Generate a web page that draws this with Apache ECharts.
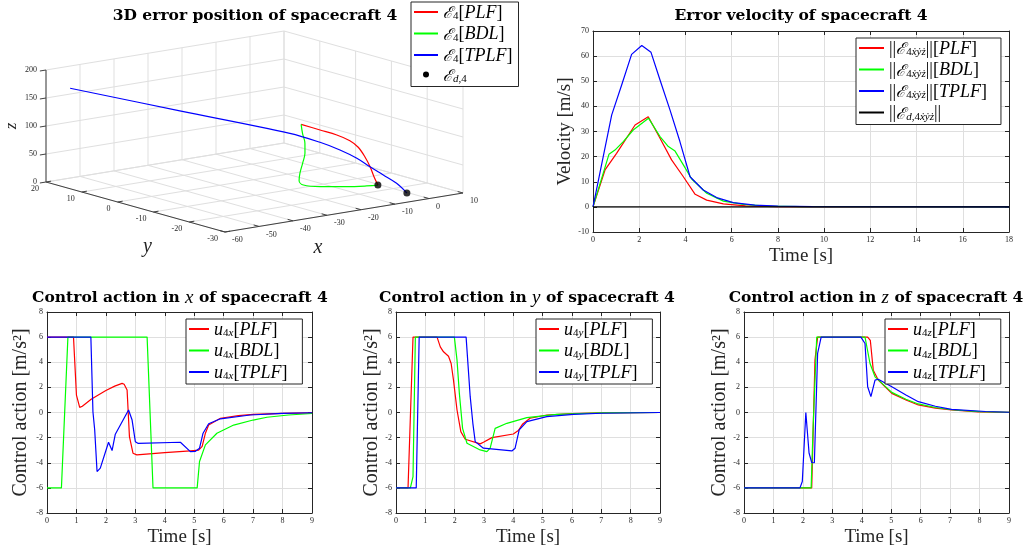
<!DOCTYPE html>
<html><head><meta charset="utf-8">
<script src="https://cdn.jsdelivr.net/npm/echarts@6/dist/echarts.min.js"></script>
<style>html,body{margin:0;padding:0;background:#fff}#c{width:1029px;height:552px}</style>
</head><body><div id="c"></div>
<script>
// ---------------- DATA ----------------
// 3D error position (x, y, z)
const X_TICKS_3D = [-60, -50, -40, -30, -20, -10, 0, 10];
const Y_TICKS_3D = [-30, -20, -10, 0, 10, 20];
const Z_TICKS_3D = [0, 50, 100, 150, 200];
const POS_PLF = [[0.3,6,68],[2.9,3.2,60.3],[5.0,0.5,54.1],[5.9,-2.3,48.0],[5.4,-5.1,41.8],[4.4,-7.9,30.9],[3.0,-10.7,19.5],[1.3,-13.4,8.2],[-0.5,-16.2,0]];
const POS_BDL = [[0.3,6,68],[-1.4,4.0,57.3],[-2.8,2.0,44.3],[-5.0,-0.1,32.5],[-7.8,-2.1,20.9],[-10.7,-4.1,9.5],[-12.2,-5.3,0],[-14.3,-8.5,0],[-12.3,-11.3,0],[-7.4,-14.0,0],[-3.2,-15.6,0],[-0.5,-16.2,0]];
const POS_TPLF = [[-52.9,20,160.3],[-25.9,15,102.1],[1.2,10,43.9],[4.8,5,33.2],[5.4,0,27.8],[5.1,-5,22.3],[3.7,-10,17.5],[2.35,-15,13],[1.0,-20,8.4],[-0.4,-24.2,0]];
const POS_DES = [[-0.5,-16.2,0],[-0.4,-24.2,0]];

// Error velocity [t, |v|]
const VEL_PLF = [[0,0],[0.52,14.7],[1.02,21.3],[1.82,32.6],[2.39,35.9],[2.9,27.3],[3.4,18.7],[3.91,12],[4.42,5],[4.92,2.7],[5.64,1.2],[6.6,0.4],[8,0.1],[10,0],[18,0]];
const VEL_BDL = [[0,0],[0.69,20.9],[0.95,22.6],[1.31,26],[1.74,30.6],[2.4,35.3],[2.9,28],[3.26,24],[3.55,22.2],[3.91,16.7],[4.27,11.1],[4.92,5.4],[5.64,2.3],[6.5,1],[7.5,0.35],[9,0.08],[18,0]];
const VEL_TPLF = [[0,0],[0.81,36.6],[1.24,48.5],[1.67,60.7],[2.11,64.2],[2.51,61.5],[2.9,50.5],[3.33,38.6],[3.76,26],[4.2,12],[4.77,6.7],[5.35,3.7],[6.07,1.7],[7,0.7],[8,0.3],[9.5,0.08],[18,0]];
const VEL_DES = [[0,0],[18,0]];

// Control action [t, u]
const UX_PLF = [[0,6],[0.9,6],[1.0,1.39],[1.11,0.41],[1.2,0.5],[1.5,1.05],[2.0,1.75],[2.3,2.1],[2.55,2.32],[2.62,2.25],[2.72,1.79],[2.8,-1.92],[2.92,-3.24],[3.05,-3.37],[4.0,-3.2],[4.87,-3.05],[5.15,-3.0],[5.27,-2.7],[5.38,-1.65],[5.49,-0.99],[5.89,-0.46],[6.5,-0.25],[7,-0.15],[8,-0.07],[9,-0.03]];
const UX_BDL = [[0,-6],[0.49,-6],[0.71,6],[3.4,6],[3.6,-6],[5.1,-6],[5.18,-3.9],[5.38,-2.58],[5.77,-1.65],[6.34,-1.0],[7.0,-0.6],[7.47,-0.38],[8.2,-0.2],[9,-0.08]];
const UX_TPLF = [[0,6],[1.49,6],[1.56,0.06],[1.62,-1.39],[1.7,-4.7],[1.81,-4.43],[2.09,-2.37],[2.21,-3.03],[2.32,-1.73],[2.77,0.2],[2.89,-0.6],[3.0,-2.32],[3.1,-2.46],[4.53,-2.37],[4.87,-3.11],[5.03,-3.1],[5.18,-2.84],[5.3,-1.65],[5.49,-0.9],[5.89,-0.5],[6.9,-0.2],[8,-0.07],[9,-0.02]];
const UY_PLF = [[0,-6],[0.41,-6],[0.58,6],[1.4,6],[1.51,5.22],[1.62,4.83],[1.79,4.48],[1.88,3.9],[1.96,2.58],[2.08,0.2],[2.21,-1.52],[2.36,-2.13],[2.87,-2.5],[2.98,-2.37],[3.27,-2.0],[4.0,-1.71],[4.17,-1.44],[4.32,-0.91],[4.57,-0.46],[5.14,-0.2],[6,-0.08],[7,-0.03],[9,0]];
const UY_BDL = [[0,-6],[0.49,-6],[0.58,-5.1],[0.66,6],[1.99,6],[2.08,4.17],[2.16,1.52],[2.27,-1.26],[2.42,-2.45],[2.87,-2.98],[3.1,-3.11],[3.21,-2.84],[3.38,-1.26],[3.78,-0.86],[4.46,-0.41],[5.48,-0.15],[7,-0.03],[9,0]];
const UY_TPLF = [[0,-6],[0.69,-6],[0.79,6],[2.39,6],[2.53,1.26],[2.62,-0.86],[2.7,-2.32],[2.98,-2.84],[3.95,-3.06],[4.06,-2.84],[4.2,-1.39],[4.46,-0.73],[5.14,-0.33],[6.05,-0.15],[7,-0.06],[9,0]];
const UZ_PLF = [[0,-6],[2.3,-6],[2.41,4.17],[2.5,6],[4.2,6],[4.29,5.75],[4.39,3.37],[4.56,2.58],[5.02,1.52],[5.5,1.0],[5.92,0.6],[6.5,0.35],[7.05,0.2],[7.95,0.05],[9,0.01]];
const UZ_BDL = [[0,-6],[2.28,-6],[2.35,-1],[2.47,6],[4.11,6],[4.28,3.9],[4.45,2.84],[5.02,1.6],[5.5,1.05],[5.92,0.68],[6.5,0.4],[7.05,0.22],[8,0.07],[9,0.02]];
const UZ_TPLF = [[0,-6],[1.9,-6],[1.98,-5.49],[2.1,0],[2.21,-3.24],[2.3,-3.98],[2.39,-4],[2.5,4.7],[2.62,6],[3.97,6],[4.11,5.49],[4.2,2.05],[4.31,1.26],[4.45,2.58],[4.56,2.65],[5.02,2.05],[5.5,1.4],[5.92,0.86],[6.5,0.5],[7.05,0.25],[8.2,0.08],[9,0.02]];

// ---------------- STYLE / LAYOUT ----------------
const FONT = '"Liberation Serif","Times New Roman",serif';
const TFONT = '"DejaVu Serif",serif';
const RED = '#ff0000', GREEN = '#00ff00', BLUE = '#0000ff', BLACK = '#000000';
const AXC = '#262626', GRIDC = '#dfdfdf';
const BOX = {xmin:-60, xmax:10, ymin:-30, ymax:20, zmin:0, zmax:200};
const VIEW = {origin:[46,182], ex:[238,-39], ey:[179,50], ez:[0,-112]};
function proj(p){
  const a=(p[0]-BOX.xmin)/(BOX.xmax-BOX.xmin), b=(BOX.ymax-p[1])/(BOX.ymax-BOX.ymin), c=(p[2]-BOX.zmin)/(BOX.zmax-BOX.zmin);
  return [VIEW.origin[0]+a*VIEW.ex[0]+b*VIEW.ey[0]+c*VIEW.ez[0], VIEW.origin[1]+a*VIEW.ex[1]+b*VIEW.ey[1]+c*VIEW.ez[1]];
}
// 3D box grid segments
const gridSegs=[], axisSegs=[];
X_TICKS_3D.forEach(x=>{
  gridSegs.push([[x,BOX.ymax,0],[x,BOX.ymin,0]]);
  gridSegs.push([[x,BOX.ymax,0],[x,BOX.ymax,BOX.zmax]]);
  axisSegs.push([[x,BOX.ymin,0],[x,BOX.ymin+1.5,0]]);
});
Y_TICKS_3D.forEach(y=>{
  gridSegs.push([[BOX.xmin,y,0],[BOX.xmax,y,0]]);
  gridSegs.push([[BOX.xmax,y,0],[BOX.xmax,y,BOX.zmax]]);
  axisSegs.push([[BOX.xmin,y,0],[BOX.xmin+1.5,y,0]]);
});
Z_TICKS_3D.forEach(z=>{
  gridSegs.push([[BOX.xmin,BOX.ymax,z],[BOX.xmax,BOX.ymax,z]]);
  gridSegs.push([[BOX.xmax,BOX.ymax,z],[BOX.xmax,BOX.ymin,z]]);
  axisSegs.push([[BOX.xmin,BOX.ymax,z],[BOX.xmin-1.8,BOX.ymax,z]]);
});
axisSegs.push([[BOX.xmin,BOX.ymax,BOX.zmin],[BOX.xmin,BOX.ymax,BOX.zmax]]);
axisSegs.push([[BOX.xmin,BOX.ymin,0],[BOX.xmax,BOX.ymin,0]]);
axisSegs.push([[BOX.xmin,BOX.ymax,0],[BOX.xmin,BOX.ymin,0]]);
const segData = s => s.map(q=>proj(q[0]).concat(proj(q[1])));

const labels3D=[];
Z_TICKS_3D.forEach(z=>labels3D.push({p:proj([BOX.xmin,BOX.ymax,z]),text:String(z),align:'right',dx:-9,dy:0,size:8}));
Y_TICKS_3D.forEach(y=>labels3D.push({p:proj([BOX.xmin,y,0]),text:String(y),align:'right',dx:-7,dy:7,size:8}));
X_TICKS_3D.forEach(x=>labels3D.push({p:proj([x,BOX.ymin,0]),text:String(x),align:'left',dx:7,dy:8,size:8}));
{
  const mx=proj([(BOX.xmin+BOX.xmax)/2,BOX.ymin,0]);
  const my=proj([BOX.xmin,(BOX.ymin+BOX.ymax)/2,0]);
  const mz=proj([BOX.xmin,BOX.ymax,(BOX.zmin+BOX.zmax)/2]);
  labels3D.push({p:mx,text:'x',align:'center',dx:-26,dy:35,size:20,italic:true});
  labels3D.push({p:my,text:'y',align:'center',dx:12,dy:40,size:20,italic:true});
  labels3D.push({p:mz,text:'z',align:'center',dx:-34,dy:0,size:17,italic:true,rot:Math.PI/2});
}

function segRender(color){
  return function(params, api){
    const a=api.coord([api.value(0),api.value(1)]), b=api.coord([api.value(2),api.value(3)]);
    return {type:'line',shape:{x1:a[0],y1:a[1],x2:b[0],y2:b[1]},style:{stroke:color,lineWidth:1}};
  };
}
function textRender(params, api){
  const L=labels3D[params.dataIndex];
  const c=api.coord([api.value(0),api.value(1)]);
  return {type:'text',x:c[0]+L.dx,y:c[1]+L.dy,rotation:L.rot||0,
    style:{text:L.text,fill:AXC,fontSize:L.size,fontFamily:FONT,fontStyle:L.italic?'italic':'normal',align:L.align,verticalAlign:'middle'}};
}

// legend text
const RICH = {
  n:{fontFamily:FONT,fontSize:18,color:'#000',lineHeight:20,verticalAlign:'bottom'},
  i:{fontFamily:FONT,fontSize:18,fontStyle:'italic',color:'#000',lineHeight:20,verticalAlign:'bottom'},
  s:{fontFamily:'"DejaVu Serif",serif',fontSize:16,fontStyle:'italic',color:'#000',lineHeight:20,verticalAlign:'bottom'},
  b:{fontFamily:FONT,fontSize:11,color:'#000',lineHeight:8,verticalAlign:'bottom'},
  bi:{fontFamily:FONT,fontSize:11,fontStyle:'italic',color:'#000',lineHeight:8,verticalAlign:'bottom'}
};
const LEG = {
  e4PLF:'{s|ℰ}{b|4}{n|[}{i|PLF}{n|]}', e4BDL:'{s|ℰ}{b|4}{n|[}{i|BDL}{n|]}', e4TPLF:'{s|ℰ}{b|4}{n|[}{i|TPLF}{n|]}', ed4:'{s|ℰ}{bi|d}{b|,4}',
  vPLF:'{n|||}{s|ℰ}{b|4}{bi|ẋẏż}{n|||[}{i|PLF}{n|]}', vBDL:'{n|||}{s|ℰ}{b|4}{bi|ẋẏż}{n|||[}{i|BDL}{n|]}',
  vTPLF:'{n|||}{s|ℰ}{b|4}{bi|ẋẏż}{n|||[}{i|TPLF}{n|]}', vDES:'{n|||}{s|ℰ}{bi|d}{b|,4}{bi|ẋẏż}{n|||}'
};
['x','y','z'].forEach(a=>{
  LEG['u'+a+'PLF']='{i|u}{b|4}{bi|'+a+'}{n|[}{i|PLF}{n|]}';
  LEG['u'+a+'BDL']='{i|u}{b|4}{bi|'+a+'}{n|[}{i|BDL}{n|]}';
  LEG['u'+a+'TPLF']='{i|u}{b|4}{bi|'+a+'}{n|[}{i|TPLF}{n|]}';
});
function legend(data,left,top,itemWidth,padRight){
  return {data,left,top,orient:'vertical',itemWidth,itemHeight:6,itemGap:3.5,padding:[2,padRight,2,2],
    borderColor:AXC,borderWidth:1,backgroundColor:'#fff',selectedMode:false,
    itemStyle:{opacity:0},
    formatter:n=>LEG[n],textStyle:{fontFamily:FONT,fontSize:18,color:'#000',rich:RICH}};
}

const GRIDS = [
  {left:0,top:0,width:1029,height:552},
  {left:593,top:31,width:416,height:201},
  {left:47,top:312,width:265,height:201},
  {left:396,top:312,width:264,height:201},
  {left:744,top:312,width:265,height:201}
];
function xAxes(g,min,max,interval,name){
  const tick={inside:true,length:4,lineStyle:{color:AXC}};
  return [
    {type:'value',gridIndex:g,min,max,interval,position:'bottom',name,nameLocation:'middle',nameGap:15,
     nameTextStyle:{fontFamily:FONT,fontSize:19,color:AXC},
     axisLine:{onZero:false,lineStyle:{color:AXC,width:1}},axisTick:tick,
     axisLabel:{fontFamily:FONT,fontSize:8,color:AXC,margin:4},splitLine:{show:true,lineStyle:{color:GRIDC,width:1}}},
    {type:'value',gridIndex:g,min,max,interval,position:'top',
     axisLine:{onZero:false,lineStyle:{color:AXC,width:1}},axisTick:tick,axisLabel:{show:false},splitLine:{show:false}}
  ];
}
function yAxes(g,min,max,interval,name,gap,size){
  const tick={inside:true,length:4,lineStyle:{color:AXC}};
  return [
    {type:'value',gridIndex:g,min,max,interval,position:'left',name,nameLocation:'middle',nameGap:gap,
     nameTextStyle:{fontFamily:FONT,fontSize:size,color:AXC},
     axisLine:{onZero:false,lineStyle:{color:AXC,width:1}},axisTick:tick,
     axisLabel:{fontFamily:FONT,fontSize:8,color:AXC,margin:4},splitLine:{show:true,lineStyle:{color:GRIDC,width:1}}},
    {type:'value',gridIndex:g,min,max,interval,position:'right',
     axisLine:{onZero:false,lineStyle:{color:AXC,width:1}},axisTick:tick,axisLabel:{show:false},splitLine:{show:false}}
  ];
}
const xAxis=[{type:'value',gridIndex:0,min:0,max:1029,show:false}]
  .concat(xAxes(1,0,18,2,'Time [s]'),xAxes(2,0,9,1,'Time [s]'),xAxes(3,0,9,1,'Time [s]'),xAxes(4,0,9,1,'Time [s]'));
const UNAME='Control action [m/s²]';
const yAxis=[{type:'value',gridIndex:0,min:0,max:552,inverse:true,show:false}]
  .concat(yAxes(1,-10,70,10,'Velocity [m/s]',18,19),yAxes(2,-8,8,2,UNAME,16,20),yAxes(3,-8,8,2,UNAME,14,20),yAxes(4,-8,8,2,UNAME,14,20));

function line(name,data,ai,color,smooth){
  return {type:'line',name,data,xAxisIndex:ai,yAxisIndex:ai,symbol:'none',showSymbol:false,smooth:smooth||false,
    lineStyle:{color,width:1.2},itemStyle:{color},animation:false};
}
const series=[
  {type:'custom',xAxisIndex:0,yAxisIndex:0,data:segData(gridSegs),renderItem:segRender(GRIDC),silent:true},
  {type:'custom',xAxisIndex:0,yAxisIndex:0,data:segData(axisSegs),renderItem:segRender('#404040'),silent:true},
  {type:'custom',xAxisIndex:0,yAxisIndex:0,data:labels3D.map(l=>l.p),renderItem:textRender,silent:true},
  line('e4PLF',POS_PLF.map(proj),0,RED,0.35),
  line('e4BDL',POS_BDL.map(proj),0,GREEN,0.35),
  line('e4TPLF',POS_TPLF.map(proj),0,BLUE,0.35),
  {type:'scatter',name:'ed4',data:POS_DES.map(proj),xAxisIndex:0,yAxisIndex:0,symbol:'circle',symbolSize:7,itemStyle:{color:BLACK},z:5},
  line('vPLF',VEL_PLF,1,RED), line('vBDL',VEL_BDL,1,GREEN), line('vTPLF',VEL_TPLF,1,BLUE), line('vDES',VEL_DES,1,BLACK),
  line('uxPLF',UX_PLF,3,RED), line('uxBDL',UX_BDL,3,GREEN), line('uxTPLF',UX_TPLF,3,BLUE),
  line('uyPLF',UY_PLF,5,RED), line('uyBDL',UY_BDL,5,GREEN), line('uyTPLF',UY_TPLF,5,BLUE),
  line('uzPLF',UZ_PLF,7,RED), line('uzBDL',UZ_BDL,7,GREEN), line('uzTPLF',UZ_TPLF,7,BLUE)
];

const TS={fontFamily:TFONT,fontWeight:'bold',fontSize:15.5,color:'#000',rich:{i:{fontFamily:FONT,fontStyle:'italic',fontWeight:'normal',fontSize:19,color:'#000'}}};
const title=[
  {text:'3D error position of spacecraft 4',left:255,top:8,textAlign:'center',padding:0,textStyle:TS},
  {text:'Error velocity of spacecraft 4',left:801,top:8,textAlign:'center',padding:0,textStyle:TS},
  {text:'Control action in {i|x} of spacecraft 4',left:180,top:288,textAlign:'center',padding:0,textStyle:TS},
  {text:'Control action in {i|y} of spacecraft 4',left:527,top:288,textAlign:'center',padding:0,textStyle:TS},
  {text:'Control action in {i|z} of spacecraft 4',left:876,top:288,textAlign:'center',padding:0,textStyle:TS}
];
const legends=[
  legend(['e4PLF','e4BDL','e4TPLF',{name:'ed4',icon:'circle',itemStyle:{opacity:1,color:BLACK}}],411,2,24,6),
  legend(['vPLF','vBDL','vTPLF','vDES'],856,38,25,14),
  legend(['uxPLF','uxBDL','uxTPLF'],186,319,20,15),
  legend(['uyPLF','uyBDL','uyTPLF'],536,319,20,15),
  legend(['uzPLF','uzBDL','uzTPLF'],885,319,20,15)
];

const chart=echarts.init(document.getElementById('c'),null,{renderer:'canvas'});
chart.setOption({animation:false,backgroundColor:'#fff',title,legend:legends,grid:GRIDS,xAxis,yAxis,series});
</script></body></html>
